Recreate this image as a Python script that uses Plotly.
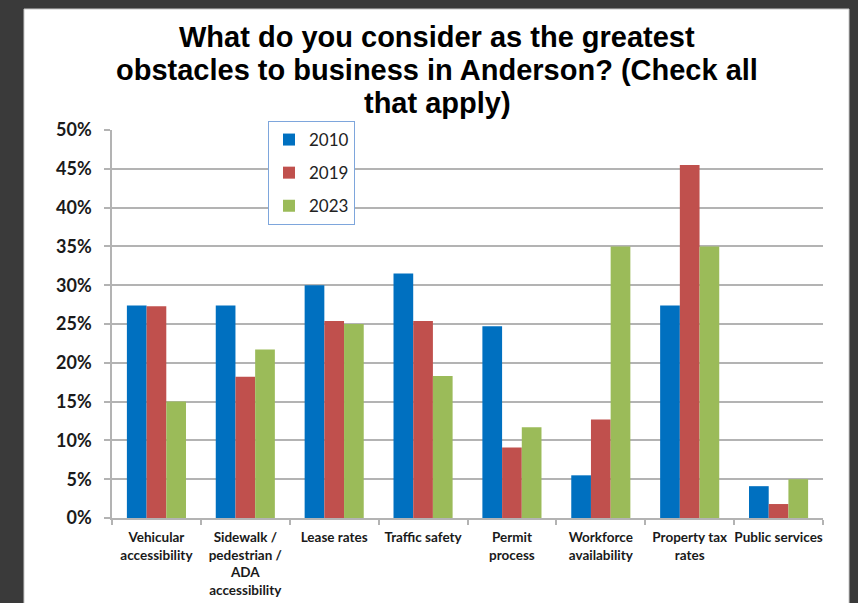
import plotly.graph_objects as go

categories = [
    "Vehicular<br>accessibility",
    "Sidewalk /<br>pedestrian /<br>ADA<br>accessibility",
    "Lease rates",
    "Traffic safety",
    "Permit<br>process",
    "Workforce<br>availability",
    "Property tax<br>rates",
    "Public services",
]
years = ["2010", "2019", "2023"]
values_2010 = [0.274, 0.274, 0.300, 0.315, 0.247, 0.055, 0.274, 0.041]
values_2019 = [0.273, 0.182, 0.254, 0.254, 0.091, 0.127, 0.455, 0.018]
values_2023 = [0.150, 0.217, 0.250, 0.183, 0.117, 0.350, 0.350, 0.050]
series = [values_2010, values_2019, values_2023]
colors = ["#0070C0", "#C0504D", "#9BBB59"]
title_lines = [
    "What do you consider as the greatest",
    "obstacles to business in Anderson? (Check all",
    "that apply)",
]

W, H = 858, 603
ML, MR, MT, MB = 112, 35, 130, 85
PW, PH = W - ML - MR, H - MT - MB

fig = go.Figure()
for i, (name, vals) in enumerate(zip(years, series)):
    fig.add_trace(go.Bar(
        x=categories, y=vals, name=name,
        marker=dict(color=colors[i], line=dict(width=0)),
        legendgroup=name,
    ))

# three-line heading, one annotation per line for tight line spacing
for k, line in enumerate(title_lines):
    fig.add_annotation(
        text=line, xref="paper", yref="paper",
        x=(437 - ML) / PW, y=1 + (MT - (37 + 33 * k)) / PH,
        xanchor="center", yanchor="middle", showarrow=False,
        font=dict(family="Liberation Sans, Arial", size=29, color="black", weight="bold"),
    )

fig.update_layout(
    width=W, height=H,
    paper_bgcolor="#3a3a3a",
    plot_bgcolor="white",
    margin=dict(l=ML, r=MR, t=MT, b=MB, pad=0, autoexpand=False),
    barmode="group",
    bargap=0.335,
    bargroupgap=0,
    legend=dict(
        x=268 / W, y=1 - 121 / H, xref="container", yref="container",
        xanchor="left", yanchor="top",
        bgcolor="white", bordercolor="#7ea6dc", borderwidth=1,
        font=dict(family="Lato, Open Sans", size=17, color="#222"),
        tracegroupgap=8,
    ),
    shapes=[dict(
        type="rect", xref="paper", yref="paper",
        x0=-(ML - 24) / PW, x1=1 + (849 - (W - MR)) / PW,
        y0=-(MB + 5) / PH, y1=1 + (MT - 9) / PH,
        fillcolor="white", line=dict(color="#c8c8c8", width=1), layer="below",
    )],
)

fig.update_yaxes(
    range=[0, 0.5], dtick=0.05, tickformat=".0%",
    showgrid=True, gridcolor="#b3b3b3", gridwidth=1.5,
    showline=True, linecolor="#b3b3b3", linewidth=1.5,
    ticks="outside", ticklen=6, tickcolor="#b3b3b3", tickwidth=1.5,
    tickfont=dict(family="Lato, Open Sans", size=18, color="#1a1a1a", weight="bold"),
    ticklabelstandoff=9,
    zeroline=False,
)
fig.update_xaxes(
    showline=True, linecolor="#b3b3b3", linewidth=1.5,
    ticks="outside", ticklen=5, tickcolor="#b3b3b3", tickwidth=1.5,
    tickson="boundaries",
    tickfont=dict(family="Lato, Open Sans", size=13.5, color="#1a1a1a", weight="bold"),
    ticklabelstandoff=6,
    tickangle=0,
)

fig.write_html("out.html")
